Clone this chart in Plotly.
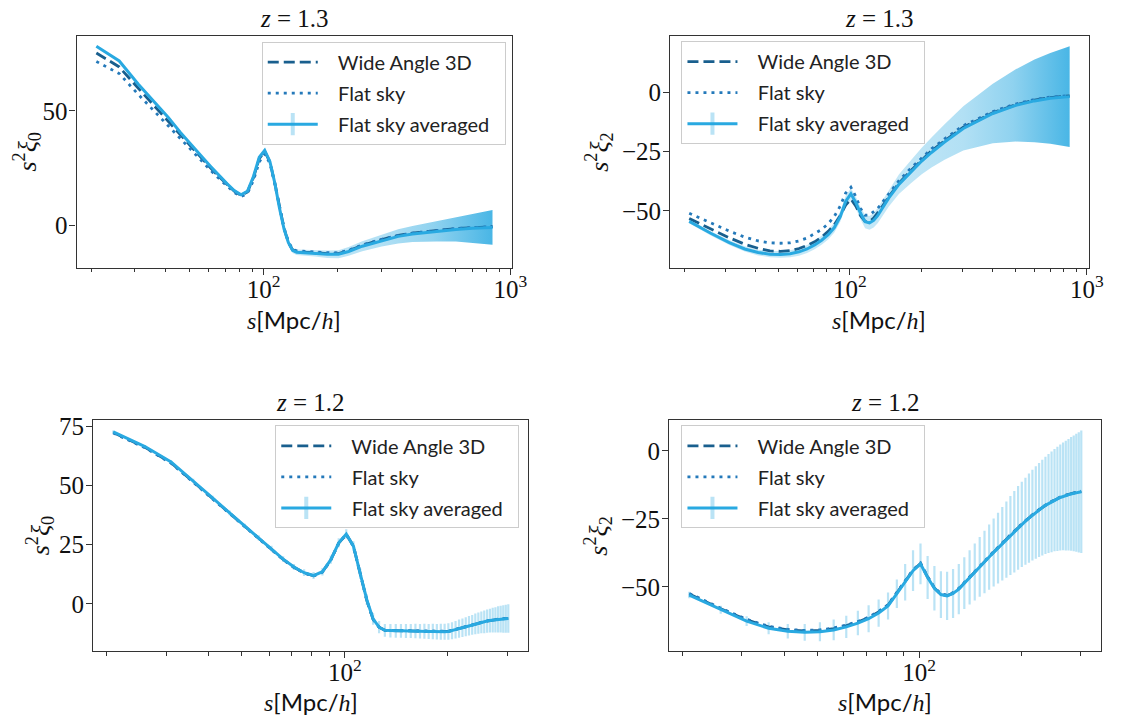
import plotly.graph_objects as go

# ---------------- data ----------------
s_top = [21, 26, 31, 36, 41, 46, 51, 56, 61, 66, 71, 76, 81, 86, 91, 96, 101, 106, 111, 116,
         121, 126, 131, 136, 146, 161, 181, 201, 221, 251, 301, 351, 401, 501, 601, 701, 846]

# z = 1.3, monopole
tl_avg = [78.2, 71.8, 61.8, 54.0, 47.3, 40.6, 35.0, 30.2, 25.8, 21.8, 18.3, 15.3, 13.4, 15.0, 21.5, 29.8,
          32.8, 28.0, 18.5, 7.5, -1.5, -7.5, -10.8, -11.6, -11.9, -12.1, -12.5, -12.5, -11.3, -9.0, -6.5,
          -4.7, -3.7, -2.5, -1.7, -1.2, -0.8]
tl_wide = [75.3, 69.2, 60.0, 52.3, 45.6, 39.3, 34.0, 29.4, 25.1, 21.3, 17.9, 15.0, 13.2, 14.7, 21.0, 29.2,
           32.3, 27.8, 18.5, 7.6, -1.3, -7.3, -10.6, -11.4, -11.7, -11.9, -12.2, -12.2, -11.0, -8.6, -6.1,
           -4.3, -3.3, -2.1, -1.3, -0.9, -0.5]
tl_flat = [71.6, 66.3, 57.3, 50.0, 43.6, 37.7, 32.6, 28.2, 24.1, 20.5, 17.2, 14.4, 12.7, 14.0, 19.8, 27.8,
           31.3, 27.2, 18.2, 7.6, -1.1, -7.0, -10.3, -11.0, -11.3, -11.5, -11.8, -11.9, -10.8, -8.4, -6.0,
           -4.3, -3.3, -2.1, -1.3, -0.9, -0.5]
tl_err = [0.2, 0.2, 0.25, 0.3, 0.3, 0.35, 0.4, 0.4, 0.45, 0.5, 0.55, 0.6, 0.65, 0.7, 0.75, 0.8, 0.85, 0.9,
          0.95, 1.0, 1.05, 1.1, 1.15, 1.2, 1.3, 1.4, 1.6, 1.75, 1.9, 2.2, 2.6, 3.1, 3.5, 4.4, 5.3, 6.3, 7.6]

# z = 1.3, quadrupole
tr_avg = [-54.4, -59.5, -63.3, -66.0, -67.5, -68.2, -68.3, -68.0, -67.2, -66.0, -64.3, -62.3, -60.0, -57.0,
          -52.5, -46.0, -42.8, -46.5, -51.0, -54.5, -55.0, -54.0, -52.0, -49.5, -44.5, -38.8, -33.5, -29.0,
          -25.4, -21.0, -15.3, -12.0, -9.0, -5.6, -3.7, -2.6, -1.9]
tr_wide = [-53.2, -57.8, -61.3, -64.0, -65.7, -66.8, -67.0, -66.7, -65.8, -64.5, -63.0, -61.0, -58.6, -55.8,
           -52.0, -47.5, -45.0, -48.0, -52.0, -54.5, -54.5, -53.0, -51.0, -48.6, -44.0, -38.3, -33.0, -28.5,
           -24.7, -20.5, -14.8, -11.6, -8.7, -5.3, -3.4, -2.3, -1.6]
tr_flat = [-51.0, -55.2, -58.5, -61.0, -62.6, -63.4, -63.6, -63.4, -62.6, -61.4, -59.7, -57.8, -55.4, -52.3,
           -48.0, -42.5, -40.0, -44.0, -49.0, -51.8, -51.7, -50.5, -49.0, -46.8, -42.8, -37.3, -32.0, -27.6,
           -23.9, -19.7, -14.1, -11.0, -8.2, -5.0, -3.1, -2.1, -1.5]
tr_err = [0.8, 0.9, 1.0, 1.1, 1.2, 1.3, 1.4, 1.5, 1.6, 1.7, 1.8, 1.9, 2.0, 2.1, 2.2, 2.3, 2.4, 2.5, 2.6, 2.8,
          2.9, 3.0, 3.2, 3.3, 3.6, 4.1, 4.8, 5.6, 6.3, 7.5, 9.3, 11.0, 12.5, 15.2, 17.4, 19.1, 21.2]

s_bot = [21, 26, 31, 36, 41, 46, 51, 56, 61, 66, 71, 76, 81, 86, 91, 96, 101, 106, 111, 116, 121, 126,
         131, 136, 141, 146, 151, 156, 161, 166, 171, 176, 181, 186, 191, 196, 201, 206, 211, 216, 221,
         226, 231, 236, 241, 246, 251, 256, 261, 266, 271, 276, 281, 286, 291, 296, 301]

# z = 1.2, monopole
bl_avg = [72.6, 66.4, 59.9, 52.0, 44.8, 38.4, 32.8, 27.9, 23.4, 18.9, 15.6, 13.2, 12.0, 13.6, 18.7, 25.8,
          29.5, 24.4, 12.7, 1.8, -6.3, -9.8, -11.1, -11.3, -11.3, -11.3, -11.4, -11.4, -11.4, -11.5, -11.5,
          -11.6, -11.6, -11.7, -11.7, -11.7, -11.6, -11.3, -10.9, -10.4, -10.0, -9.6, -9.2, -8.8, -8.4, -8.1,
          -7.8, -7.5, -7.2, -7.0, -6.8, -6.7, -6.5, -6.4, -6.3, -6.2, -6.1]
bl_err = [0.6, 0.7, 0.8, 0.8, 0.9, 1.0, 1.0, 1.1, 1.2, 1.2, 1.3, 1.4, 1.5, 1.6, 1.7, 1.9, 2.0, 2.1, 2.2,
          2.3, 2.5, 2.6, 2.7, 2.8, 2.9, 2.9, 3.0, 3.0, 3.1, 3.1, 3.2, 3.2, 3.3, 3.3, 3.4, 3.4, 3.5, 3.6, 3.7,
          3.8, 3.9, 4.0, 4.1, 4.2, 4.4, 4.5, 4.6, 4.8, 4.9, 5.0, 5.2, 5.3, 5.5, 5.6, 5.8, 5.9, 6.0]

# z = 1.2, quadrupole
br_avg = [-53.0, -58.4, -62.6, -65.2, -66.3, -66.7, -66.5, -65.8, -64.7, -63.3, -61.7, -59.6, -57.0, -52.5,
          -48.3, -44.0, -41.5, -46.5, -50.5, -52.8, -53.3, -52.4, -50.8, -48.6, -46.5, -44.5, -42.6, -40.8,
          -39.0, -37.3, -35.7, -34.1, -32.6, -31.1, -29.7, -28.3, -27.0, -25.8, -24.7, -23.6, -22.6, -21.7,
          -20.8, -20.0, -19.3, -18.7, -18.1, -17.6, -17.1, -16.7, -16.4, -16.1, -15.8, -15.6, -15.4, -15.2,
          -15.0]
br_err = [1.2, 1.5, 1.8, 2.2, 2.7, 3.1, 3.5, 3.8, 4.1, 4.5, 5.0, 5.0, 5.0, 5.2, 6.7, 7.5, 7.5, 7.9, 8.2,
          8.6, 8.9, 9.0, 9.2, 9.5, 10.0, 10.5, 11.0, 11.5, 12.0, 12.5, 13.0, 13.5, 14.0, 14.5, 15.0, 15.4,
          15.7, 16.0, 16.4, 16.7, 17.0, 17.3, 17.6, 17.9, 18.2, 18.5, 18.8, 19.2, 19.5, 19.8, 20.2, 20.5,
          20.9, 21.3, 21.7, 22.1, 22.5]

s_bot_th = [21, 26, 31, 36, 41, 46, 51, 56, 61, 66, 71, 76, 81, 86, 91, 96, 101, 106, 111, 116, 121, 126,
            131, 141, 151, 166, 181, 201, 221, 241, 261, 281, 301]
bl_wide = [72.3, 66.1, 59.6, 51.5, 44.5, 38.2, 32.6, 27.7, 23.2, 18.8, 15.5, 13.1, 11.9, 13.5, 18.6, 25.7,
           29.4, 24.4, 12.7, 1.5, -6.5, -9.8, -11.1, -11.3, -11.4, -11.5, -11.6, -11.6, -10.0, -8.4, -7.2,
           -6.5, -6.1]
bl_flat = [72.1, 65.9, 59.4, 51.3, 44.3, 38.0, 32.4, 27.6, 23.1, 18.7, 15.4, 13.0, 11.8, 13.4, 18.5, 25.6,
           29.3, 24.3, 12.7, 1.5, -6.5, -9.8, -11.1, -11.2, -11.3, -11.4, -11.5, -11.5, -9.9, -8.3, -7.1,
           -6.4, -6.0]
br_wide = [-52.6, -58.0, -62.1, -64.7, -65.8, -66.2, -66.0, -65.3, -64.2, -62.9, -61.3, -59.2, -56.7, -52.3,
           -48.1, -43.9, -41.4, -46.4, -50.4, -52.7, -53.2, -52.3, -50.7, -46.4, -42.5, -37.2, -32.5, -26.9,
           -22.5, -19.2, -17.0, -15.7, -14.9]
br_flat = [-52.4, -57.8, -61.9, -64.5, -65.6, -66.0, -65.8, -65.1, -64.0, -62.7, -61.1, -59.0, -56.5, -52.1,
           -47.9, -43.7, -41.2, -46.2, -50.2, -52.5, -53.0, -52.1, -50.5, -46.2, -42.3, -37.0, -32.3, -26.8,
           -22.4, -19.1, -16.9, -15.6, -14.8]

titles = ["<i>z</i> = 1.3", "<i>z</i> = 1.3", "<i>z</i> = 1.2", "<i>z</i> = 1.2"]
ylabels = ["<i>s</i><sup>2</sup><i>ξ</i><sub>0</sub>", "<i>s</i><sup>2</sup><i>ξ</i><sub>2</sub>",
           "<i>s</i><sup>2</sup><i>ξ</i><sub>0</sub>", "<i>s</i><sup>2</sup><i>ξ</i><sub>2</sub>"]
names = ["Wide Angle 3D", "Flat sky", "Flat sky averaged"]

# ---------------- style ----------------
C_WIDE = "#195f8e"
C_FLAT = "#2479ba"
C_AVG = "#29a9e1"
C_BAR = "rgba(41,169,225,0.32)"
SERIF = "Liberation Serif"
SANS = "Lato"
W, H = 1121, 722
PAD = "\u00a0\u00a0\u00a0"
TPAD = "\u00a0\u00a0"

# panel boxes in pixels: (left, right, top, bottom)
boxes = [(77.6, 519.1, 29.3, 263.3), (679.3, 1103.3, 29.3, 263.3),
         (94.3, 535.4, 417.3, 650.7), (678.3, 1116.0, 417.3, 650.7)]
xr = [[1.242, 3.007], [1.242, 3.007], [1.263, 2.537], [1.263, 2.537]]
yr = [[-18.4, 82.7], [-73.9, 23.6], [-20.0, 77.5], [-73.7, 11.3]]
ytv = [[0, 50], [-50, -25, 0], [0, 25, 50, 75], [-50, -25, 0]]
xtv = [[100, 1000], [100, 1000], [100], [100]]
xtt = [["10<sup>2</sup>", "10<sup>3</sup>"], ["10<sup>2</sup>", "10<sup>3</sup>"],
       ["10<sup>2</sup>"], ["10<sup>2</sup>"]]
minor_top = [20, 30, 40, 50, 60, 70, 80, 90, 200, 300, 400, 500, 600, 700, 800, 900]
minor_bot = [20, 30, 40, 50, 60, 70, 80, 90, 200, 300]
legpos = [(265.3, 35.0), (690.7, 34.5), (279.0, 422.5), (690.7, 422.5)]
ylab_x = [27, 607, 40, 606]
xlab_y = [316, 316, 701, 701]

fig = go.Figure()

panels = [
    dict(s=s_top, avg=tl_avg, err=tl_err, s_th=s_top, wide=tl_wide, flat=tl_flat, band=True),
    dict(s=s_top, avg=tr_avg, err=tr_err, s_th=s_top, wide=tr_wide, flat=tr_flat, band=True),
    dict(s=s_bot, avg=bl_avg, err=bl_err, s_th=s_bot_th, wide=bl_wide, flat=bl_flat, band=False),
    dict(s=s_bot, avg=br_avg, err=br_err, s_th=s_bot_th, wide=br_wide, flat=br_flat, band=False),
]

grad = [[0.0, "rgba(41,169,225,0.26)"], [0.55, "rgba(41,169,225,0.28)"],
        [0.72, "rgba(41,169,225,0.36)"], [0.85, "rgba(41,169,225,0.52)"],
        [1.0, "rgba(41,169,225,0.85)"]]

for i, p in enumerate(panels):
    n = "" if i == 0 else str(i + 1)
    xa, ya = "x" + n, "y" + n
    leg = "legend" + n
    if p["band"]:
        up = [v + e for v, e in zip(p["avg"], p["err"])]
        lo = [v - e for v, e in zip(p["avg"], p["err"])]
        fig.add_trace(go.Scatter(
            x=p["s"] + p["s"][::-1], y=up + lo[::-1], xaxis=xa, yaxis=ya,
            fill="toself", mode="lines", line=dict(width=0),
            fillgradient=dict(type="horizontal", colorscale=grad),
            showlegend=False, hoverinfo="skip"))
    fig.add_trace(go.Scatter(
        x=p["s_th"], y=p["wide"], xaxis=xa, yaxis=ya, mode="lines", name=PAD + names[0] + TPAD,
        line=dict(color=C_WIDE, width=2.8, dash="11px,5px"), legend=leg, legendgroup="a"))
    fig.add_trace(go.Scatter(
        x=p["s_th"], y=p["flat"], xaxis=xa, yaxis=ya, mode="lines", name=PAD + names[1] + TPAD,
        line=dict(color=C_FLAT, width=2.8, dash="3px,5px"), legend=leg, legendgroup="b"))
    ekw = {}
    if not p["band"]:
        ekw["error_y"] = dict(type="data", array=p["err"], visible=True,
                              color=C_BAR, thickness=2.2, width=0)
    fig.add_trace(go.Scatter(
        x=p["s"], y=p["avg"], xaxis=xa, yaxis=ya, mode="lines", name=names[2],
        line=dict(color=C_AVG, width=3), showlegend=False, legendgroup="c", **ekw))
    # legend entry with an error-bar glyph
    fig.add_trace(go.Scatter(
        x=[None], y=[None], xaxis=xa, yaxis=ya, mode="lines+markers", name=PAD + names[2] + TPAD,
        line=dict(color=C_AVG, width=3),
        marker=dict(symbol="line-ns", size=16, color=C_BAR, line=dict(color=C_BAR, width=4)),
        legend=leg, legendgroup="c"))

layout = dict(width=W, height=H, margin=dict(l=0, r=0, t=0, b=0),
              paper_bgcolor="white", plot_bgcolor="white", showlegend=True)
annotations = []
for i in range(4):
    n = "" if i == 0 else str(i + 1)
    L, R, T, B = boxes[i]
    axcommon = dict(showline=True, mirror=True, linecolor="#333333", linewidth=1.2,
                    ticks="outside", tickcolor="#333333", tickwidth=1.2, ticklen=6,
                    showgrid=False, zeroline=False,
                    tickfont=dict(family=SERIF, size=25, color="#111111"))
    layout["xaxis" + n] = dict(axcommon, type="log", range=xr[i], domain=[L / W, R / W],
                               anchor="y" + n, tickmode="array", tickvals=xtv[i], ticktext=xtt[i],
                               ticklabelstandoff=-7,
                               minor=dict(tickmode="array",
                                          tickvals=minor_top if i < 2 else minor_bot,
                                          ticks="outside", ticklen=3.5, tickwidth=1,
                                          tickcolor="#333333", showgrid=False))
    layout["yaxis" + n] = dict(axcommon, range=yr[i], domain=[1 - B / H, 1 - T / H],
                               anchor="x" + n, tickmode="array", tickvals=ytv[i],
                               ticklabelstandoff=-3)
    lx, ly = legpos[i]
    layout["legend" + n] = dict(x=lx / W, y=1 - ly / H, xanchor="left", yanchor="top",
                                xref="paper", yref="paper",
                                bgcolor="rgba(255,255,255,0.85)", bordercolor="#cccccc",
                                borderwidth=1, font=dict(family=SANS, size=20, color="#222222"),
                                traceorder="grouped", tracegroupgap=2, itemwidth=50)
    cx = (L + R) / 2 / W
    annotations.append(dict(text=titles[i], x=cx, y=1 - T / H, xref="paper", yref="paper",
                            xanchor="center", yanchor="bottom", yshift=2, showarrow=False,
                            font=dict(family=SERIF, size=25, color="#111111")))
    annotations.append(dict(text=ylabels[i], x=ylab_x[i] / W, y=1 - (T + B) / 2 / H,
                            xref="paper", yref="paper", xanchor="center", yanchor="middle",
                            textangle=-90, showarrow=False,
                            font=dict(family=SERIF, size=26, color="#111111")))
    annotations.append(dict(
        text="<span style='font-family:Liberation Serif'><i>s</i></span>[Mpc/"
             "<span style='font-family:Liberation Serif'><i>h</i></span>]",
        x=cx, y=1 - xlab_y[i] / H, xref="paper", yref="paper", xanchor="center",
        yanchor="middle", showarrow=False, font=dict(family=SANS, size=24, color="#111111")))
layout["annotations"] = annotations
fig.update_layout(**layout)
fig.write_html("out.html")
